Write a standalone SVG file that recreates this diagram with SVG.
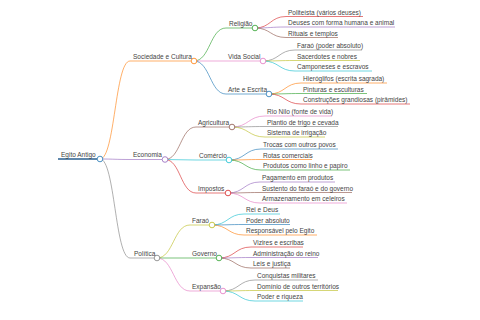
<svg xmlns="http://www.w3.org/2000/svg" width="480" height="320" viewBox="0 0 480 320">
<style>
text{font-family:"Liberation Sans",Arial,sans-serif;font-size:6.5px;fill:#444}
path,line{fill:none;stroke-width:1}
circle{fill:#fff;stroke-width:1}
.c0{stroke:#1f77b4}.c1{stroke:#ff7f0e}.c2{stroke:#2ca02c}.c3{stroke:#d62728}.c4{stroke:#9467bd}
.c5{stroke:#8c564b}.c6{stroke:#e377c2}.c7{stroke:#7f7f7f}.c8{stroke:#bcbd22}.c9{stroke:#17becf}
.l{stroke-opacity:.62}
circle{stroke-opacity:.8}
.root{stroke-width:1.5;stroke:#2a5f8f}
</style>
<rect width="480" height="320" fill="#fff"/>
<g id="connectors" class="l">
<path class="c1" d="M100,159 C115,159 115,61 130,61"/>
<path class="c4" d="M100,159 C115,159 115,159.5 130,159.5"/>
<path class="c7" d="M100,159 C115,159 115,258 130,258"/>
<path class="c2" d="M194,61 C210,61 210,28 226,28"/>
<path class="c6" d="M194,61 L226,61"/>
<path class="c0" d="M194,61 C210,61 210,94 226,94"/>
<path class="c3" d="M255,28 C270.5,28 270.5,16.5 286,16.5"/>
<path class="c4" d="M255,28 C270.5,28 270.5,27 286,27"/>
<path class="c5" d="M255,28 C270.5,28 270.5,37.5 286,37.5"/>
<path class="c7" d="M263,61 C279,61 279,50 295,50"/>
<path class="c8" d="M263,61 C279,61 279,60.5 295,60.5"/>
<path class="c9" d="M263,61 C279,61 279,71 295,71"/>
<path class="c1" d="M269,94 C285,94 285,83 301,83"/>
<path class="c2" d="M269,94 C285,94 285,93.5 301,93.5"/>
<path class="c3" d="M269,94 C285,94 285,104 301,104"/>
<path class="c5" d="M165,159.5 C180.5,159.5 180.5,127 196,127"/>
<path class="c9" d="M165,159.5 L196,160"/>
<path class="c3" d="M165,159.5 C180.5,159.5 180.5,193 196,193"/>
<path class="c6" d="M232,127 C248.5,127 248.5,116 265,116"/>
<path class="c7" d="M232,127 C248.5,127 248.5,126.5 265,126.5"/>
<path class="c8" d="M232,127 C248.5,127 248.5,137 265,137"/>
<path class="c0" d="M229,160 C245,160 245,149 261,149"/>
<path class="c1" d="M229,160 C245,160 245,159.5 261,159.5"/>
<path class="c2" d="M229,160 C245,160 245,170 261,170"/>
<path class="c4" d="M228,193 C244,193 244,182 260,182"/>
<path class="c5" d="M228,193 C244,193 244,192.5 260,192.5"/>
<path class="c6" d="M228,193 C244,193 244,203 260,203"/>
<path class="c8" d="M157,258 C173.5,258 173.5,225 190,225"/>
<path class="c2" d="M157,258 L190,258"/>
<path class="c6" d="M157,258 C173.5,258 173.5,291 190,291"/>
<path class="c9" d="M212,225 C228,225 228,214 244,214"/>
<path class="c0" d="M212,225 C228,225 228,224.5 244,224.5"/>
<path class="c1" d="M212,225 C228,225 228,235 244,235"/>
<path class="c3" d="M219,258 C235,258 235,247 251,247"/>
<path class="c4" d="M219,258 C235,258 235,257.5 251,257.5"/>
<path class="c5" d="M219,258 C235,258 235,268 251,268"/>
<path class="c7" d="M223,291 C239,291 239,280 255,280"/>
<path class="c8" d="M223,291 C239,291 239,290.5 255,290.5"/>
<path class="c9" d="M223,291 C239,291 239,301 255,301"/>
</g>
<g id="n-root"><line class="root" x1="58" y1="159" x2="97" y2="159"/><circle class="c0" cx="100" cy="159" r="2.8"/><text x="61" y="156.5">Egito Antigo</text></g>
<g id="n-sociedade"><line class="c1 l" x1="130" y1="61" x2="191" y2="61"/><circle class="c1" cx="194" cy="61" r="2.8"/><text x="133" y="58.5">Sociedade e Cultura</text></g>
<g id="n-religiao"><line class="c2 l" x1="226" y1="28" x2="252" y2="28"/><circle class="c2" cx="255" cy="28" r="2.8"/><text x="229" y="25.5">Religião</text></g>
<g id="n-politeista"><line class="c3 l" x1="286" y1="16.5" x2="363" y2="16.5"/><text x="288" y="14.5">Politeísta (vários deuses)</text></g>
<g id="n-deuses"><line class="c4 l" x1="286" y1="27" x2="395" y2="27"/><text x="288" y="25">Deuses com forma humana e animal</text></g>
<g id="n-rituais"><line class="c5 l" x1="286" y1="37.5" x2="338" y2="37.5"/><text x="288" y="35.5">Rituais e templos</text></g>
<g id="n-vidasocial"><line class="c6 l" x1="226" y1="61" x2="260" y2="61"/><circle class="c6" cx="263" cy="61" r="2.8"/><text x="228" y="58.5">Vida Social</text></g>
<g id="n-farao-poder"><line class="c7 l" x1="295" y1="50" x2="362" y2="50"/><text x="297" y="48">Faraó (poder absoluto)</text></g>
<g id="n-sacerdotes"><line class="c8 l" x1="295" y1="60.5" x2="360" y2="60.5"/><text x="297" y="58.5">Sacerdotes e nobres</text></g>
<g id="n-camponeses"><line class="c9 l" x1="295" y1="71" x2="372" y2="71"/><text x="297" y="69">Camponeses e escravos</text></g>
<g id="n-arte"><line class="c0 l" x1="226" y1="94" x2="266" y2="94"/><circle class="c0" cx="269" cy="94" r="2.8"/><text x="228" y="91.5">Arte e Escrita</text></g>
<g id="n-hieroglifos"><line class="c1 l" x1="301" y1="83" x2="387" y2="83"/><text x="303" y="81">Hieróglifos (escrita sagrada)</text></g>
<g id="n-pinturas"><line class="c2 l" x1="301" y1="93.5" x2="367" y2="93.5"/><text x="303" y="91.5">Pinturas e esculturas</text></g>
<g id="n-construcoes"><line class="c3 l" x1="301" y1="104" x2="410" y2="104"/><text x="303" y="102">Construções grandiosas (pirâmides)</text></g>
<g id="n-economia"><line class="c4 l" x1="130" y1="159.5" x2="162" y2="159.5"/><circle class="c4" cx="165" cy="159.5" r="2.8"/><text x="133" y="157">Economia</text></g>
<g id="n-agricultura"><line class="c5 l" x1="196" y1="127" x2="229" y2="127"/><circle class="c5" cx="232" cy="127" r="2.8"/><text x="198" y="124.5">Agricultura</text></g>
<g id="n-rionilo"><line class="c6 l" x1="265" y1="116" x2="332" y2="116"/><text x="267" y="114">Rio Nilo (fonte de vida)</text></g>
<g id="n-plantio"><line class="c7 l" x1="265" y1="126.5" x2="338" y2="126.5"/><text x="267" y="124.5">Plantio de trigo e cevada</text></g>
<g id="n-irrigacao"><line class="c8 l" x1="265" y1="137" x2="325" y2="137"/><text x="267" y="135">Sistema de irrigação</text></g>
<g id="n-comercio"><line class="c9 l" x1="196" y1="160" x2="226" y2="160"/><circle class="c9" cx="229" cy="160" r="2.8"/><text x="199" y="157.5">Comércio</text></g>
<g id="n-trocas"><line class="c0 l" x1="261" y1="149" x2="338" y2="149"/><text x="263" y="147">Trocas com outros povos</text></g>
<g id="n-rotas"><line class="c1 l" x1="261" y1="159.5" x2="312" y2="159.5"/><text x="263" y="157.5">Rotas comerciais</text></g>
<g id="n-produtos"><line class="c2 l" x1="261" y1="170" x2="350" y2="170"/><text x="263" y="168">Produtos como linho e papiro</text></g>
<g id="n-impostos"><line class="c3 l" x1="196" y1="193" x2="225" y2="193"/><circle class="c3" cx="228" cy="193" r="2.8"/><text x="198" y="190.5">Impostos</text></g>
<g id="n-pagamento"><line class="c4 l" x1="260" y1="182" x2="335" y2="182"/><text x="262" y="180">Pagamento em produtos</text></g>
<g id="n-sustento"><line class="c5 l" x1="260" y1="192.5" x2="352" y2="192.5"/><text x="262" y="190.5">Sustento do faraó e do governo</text></g>
<g id="n-armazenamento"><line class="c6 l" x1="260" y1="203" x2="347" y2="203"/><text x="262" y="201">Armazenamento em celeiros</text></g>
<g id="n-politica"><line class="c7 l" x1="130" y1="258" x2="154" y2="258"/><circle class="c7" cx="157" cy="258" r="2.8"/><text x="134" y="255.5">Política</text></g>
<g id="n-farao"><line class="c8 l" x1="190" y1="225" x2="209" y2="225"/><circle class="c8" cx="212" cy="225" r="2.8"/><text x="192" y="222.5">Faraó</text></g>
<g id="n-rei"><line class="c9 l" x1="244" y1="214" x2="280" y2="214"/><text x="246" y="212">Rei e Deus</text></g>
<g id="n-poderabs"><line class="c0 l" x1="244" y1="224.5" x2="290" y2="224.5"/><text x="246" y="222.5">Poder absoluto</text></g>
<g id="n-responsavel"><line class="c1 l" x1="244" y1="235" x2="317" y2="235"/><text x="246" y="233">Responsável pelo Egito</text></g>
<g id="n-governo"><line class="c2 l" x1="190" y1="258" x2="216" y2="258"/><circle class="c2" cx="219" cy="258" r="2.8"/><text x="192" y="255.5">Governo</text></g>
<g id="n-vizires"><line class="c3 l" x1="251" y1="247" x2="303" y2="247"/><text x="253" y="245">Vizires e escribas</text></g>
<g id="n-administracao"><line class="c4 l" x1="251" y1="257.5" x2="318" y2="257.5"/><text x="253" y="255.5">Administração do reino</text></g>
<g id="n-leis"><line class="c5 l" x1="251" y1="268" x2="290" y2="268"/><text x="253" y="266">Leis e justiça</text></g>
<g id="n-expansao"><line class="c6 l" x1="190" y1="291" x2="220" y2="291"/><circle class="c6" cx="223" cy="291" r="2.8"/><text x="192" y="288.5">Expansão</text></g>
<g id="n-conquistas"><line class="c7 l" x1="255" y1="280" x2="318" y2="280"/><text x="257" y="278">Conquistas militares</text></g>
<g id="n-dominio"><line class="c8 l" x1="255" y1="290.5" x2="338" y2="290.5"/><text x="257" y="288.5">Domínio de outros territórios</text></g>
<g id="n-poderriqueza"><line class="c9 l" x1="255" y1="301" x2="303" y2="301"/><text x="257" y="299">Poder e riqueza</text></g>
</svg>
